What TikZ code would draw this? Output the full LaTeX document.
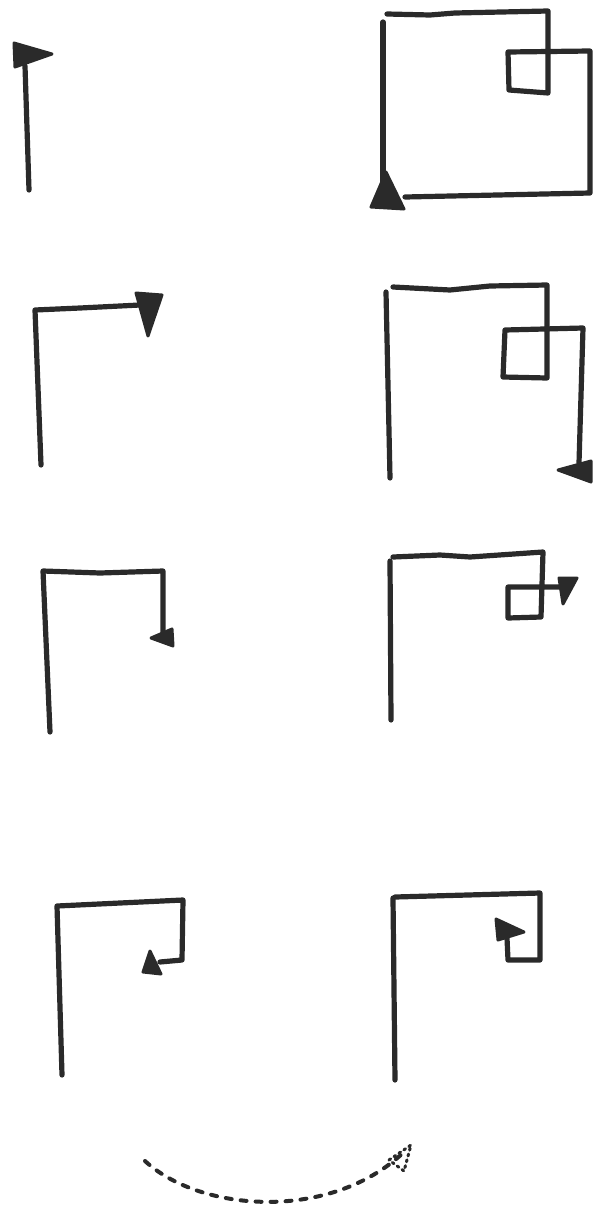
\documentclass[tikz,border=0pt]{standalone}
\usepackage{xcolor}
\usepackage{tikz}
\usetikzlibrary{calc}

\definecolor{ink}{HTML}{2A2A2A}

\begin{document}
\begin{tikzpicture}[
  x=1pt, y=-1pt,
  trail/.style={draw=ink, line width=5.2pt, line join=round, line cap=round},
  turtle/.style={fill=ink, draw=ink, line width=3pt, line join=round},
  track/.style={draw=ink, line width=4pt, line cap=round, dash pattern=on 6pt off 9pt}
]
  \useasboundingbox (0,0) rectangle (600,1210);

  % row 1
  \draw[trail] (29,190) -- (25,66);
  \filldraw[turtle] (14,43) -- (52,54) -- (15,67) -- cycle;

  \draw[trail] (383,198) -- (383,22);
  \draw[trail] (387,14) -- (430,15) -- (455,13) -- (548,11) -- (548,93)
    -- (509,90) -- (508,52) -- (590,51) -- (590,193) -- (405,197);
  \filldraw[turtle] (386,172) -- (404,209) -- (371,207) -- cycle;

  % row 2
  \draw[trail] (41,465) -- (35,310) -- (80,308) -- (140,305);
  \filldraw[turtle] (136,293) -- (162,295) -- (148,336) -- cycle;

  \draw[trail] (390,478) -- (386,292);
  \draw[trail] (393,287) -- (450,290) -- (490,286) -- (547,285) -- (547,378)
    -- (503,377) -- (505,330) -- (583,328) -- (579,463);
  \filldraw[turtle] (558,470) -- (591,461) -- (591,482) -- cycle;

  % row 3
  \draw[trail] (50,732) -- (43,571) -- (100,573) -- (163,571) -- (163,633);
  \filldraw[turtle] (151,638) -- (172,629) -- (173,646) -- cycle;

  \draw[trail] (391,720) -- (390,561);
  \draw[trail] (393,557) -- (440,555) -- (470,557) -- (543,552) -- (541,617)
    -- (508,618) -- (508,587) -- (562,587);
  \filldraw[turtle] (559,578) -- (577,578) -- (563,604) -- cycle;

  % row 4
  \draw[trail] (62,1075) -- (57,906) -- (120,903) -- (183,900) -- (182,960) -- (160,962);
  \filldraw[turtle] (150,951) -- (161,974) -- (143,972) -- cycle;

  \draw[trail] (395,1080) -- (393,898);
  \draw[trail] (395,897) -- (540,893) -- (540,960) -- (508,960) -- (507,938);
  \filldraw[turtle] (496,919) -- (524,932) -- (498,940) -- cycle;

  % turn
  \draw[track] (145,1161) .. controls (200,1212) and (330,1222) .. (404,1152);
  \draw[draw=ink, line width=3pt, dash pattern=on 2pt off 4pt, line cap=round]
    (389,1160) -- (411,1145) -- (404,1171) -- cycle;
\end{tikzpicture}
\end{document}
